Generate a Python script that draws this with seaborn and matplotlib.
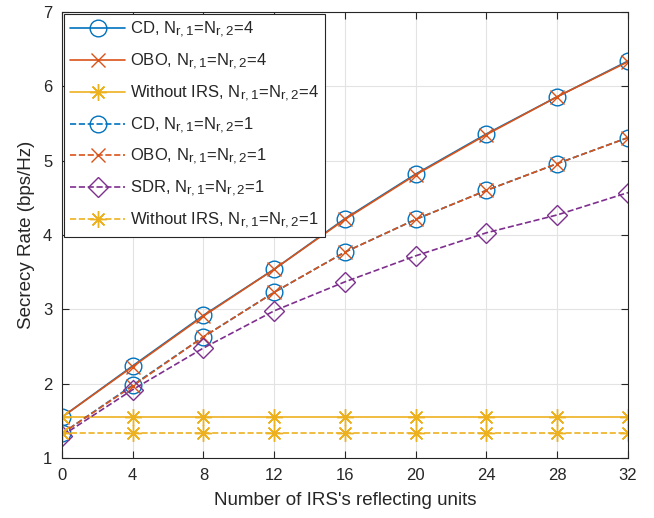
import numpy as np
import pandas as pd
import matplotlib
matplotlib.use("Agg")
import matplotlib.pyplot as plt
import matplotlib._mathtext as _mt
import seaborn as sns

_mt.SHRINK_FACTOR = 0.8

sns.set_style("ticks")
plt.rcParams['font.family'] = ['Liberation Sans', 'DejaVu Sans']
plt.rcParams['mathtext.fontset'] = 'custom'
plt.rcParams['mathtext.rm'] = 'Liberation Sans'
plt.rcParams['mathtext.it'] = 'Liberation Sans'

N = [0, 4, 8, 12, 16, 20, 24, 28, 32]
cd4 = [1.55, 2.24, 2.92, 3.54, 4.22, 4.82, 5.36, 5.86, 6.34]
obo4 = [1.55, 2.23, 2.91, 3.54, 4.21, 4.81, 5.35, 5.86, 6.33]
wo4 = [1.55] * 9
cd1 = [1.33, 1.98, 2.63, 3.23, 3.77, 4.21, 4.60, 4.96, 5.31]
obo1 = [1.33, 1.97, 2.63, 3.23, 3.77, 4.21, 4.60, 4.96, 5.31]
sdr1 = [1.30, 1.92, 2.48, 2.98, 3.37, 3.72, 4.03, 4.27, 4.57]
wo1 = [1.33] * 9

labels = [
    "CD, N$_{r,1}$=N$_{r,2}$=4",
    "OBO, N$_{r,1}$=N$_{r,2}$=4",
    "Without IRS, N$_{r,1}$=N$_{r,2}$=4",
    "CD, N$_{r,1}$=N$_{r,2}$=1",
    "OBO, N$_{r,1}$=N$_{r,2}$=1",
    "SDR, N$_{r,1}$=N$_{r,2}$=1",
    "Without IRS, N$_{r,1}$=N$_{r,2}$=1",
]
series = [cd4, obo4, wo4, cd1, obo1, sdr1, wo1]

blue, red, yel, pur = "#0072BD", "#D95319", "#EDB120", "#7E2F8E"
ast = (8, 2, 0)
styles = [
    dict(color=blue, marker='o', ls='-', ms=12),
    dict(color=red, marker='x', ls='-', ms=10),
    dict(color=yel, marker=ast, ls='-', ms=12),
    dict(color=blue, marker='o', ls='--', ms=12),
    dict(color=red, marker='x', ls='--', ms=10),
    dict(color=pur, marker='D', ls='--', ms=10),
    dict(color=yel, marker=ast, ls='--', ms=12),
]

fig = plt.figure(figsize=(6.54, 5.18), dpi=100)
ax = fig.add_axes([0.0948, 0.1158, 0.8654, 0.8611])

for lab, y, st in zip(labels, series, styles):
    df = pd.DataFrame({"x": N, "y": y})
    sns.lineplot(data=df, x="x", y="y", ax=ax, label=lab, color=st['color'],
                 marker=st['marker'], linestyle=st['ls'], markersize=st['ms'],
                 markerfacecolor='none', markeredgecolor=st['color'],
                 markeredgewidth=1.0, linewidth=1.2,
                 dashes=False if st['ls'] == '-' else (4, 3))

ax.set_xlim(0, 32)
ax.set_ylim(1, 7)
ax.set_xticks(N)
ax.set_yticks(range(1, 8))
ax.grid(True, color='#e3e3e3', linewidth=0.8)
ax.set_axisbelow(True)
ax.tick_params(direction='in', length=5, labelsize=12, top=True, right=True,
               width=0.8, pad=7)
for s in ax.spines.values():
    s.set_color('#262626')
    s.set_linewidth(0.8)
ax.set_xlabel("Number of IRS's reflecting units", fontsize=13.5, labelpad=7)
ax.set_ylabel("Secrecy Rate (bps/Hz)", fontsize=13.5, labelpad=6)

leg = ax.legend(loc='upper left', fontsize=12, frameon=True, fancybox=False,
                edgecolor='#262626', framealpha=1, borderaxespad=0.15,
                handlelength=3.3, labelspacing=0.7, borderpad=0.35,
                handletextpad=0.3)
leg.get_frame().set_linewidth(0.8)

fig.savefig("out.png", dpi=100)
